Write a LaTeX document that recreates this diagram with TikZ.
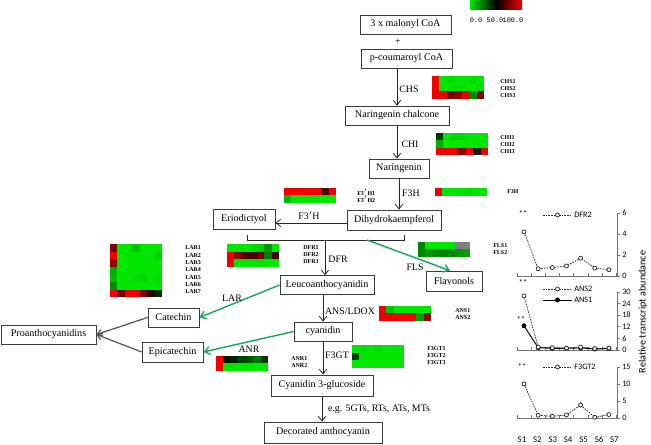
\documentclass[tikz,border=0pt]{standalone}
\usepackage{fontspec}
\setmainfont{Liberation Serif}
\newfontfamily\chartfont{Carlito}
\newfontfamily\legmono{Liberation Mono}
\usetikzlibrary{arrows.meta}
\definecolor{G}{RGB}{0,230,0}
\definecolor{R}{RGB}{240,0,0}
\definecolor{arrgreen}{RGB}{30,165,95}
\definecolor{arrgray}{RGB}{85,85,85}
\definecolor{boxline}{RGB}{60,60,60}
\newcommand\hmrow[4]{\foreach \cc [count=\ii from 0] in {#4}{\fill[\cc] ({#1+\ii*7.43},#2) rectangle ++(7.55,#3);}}
\begin{document}
\begin{tikzpicture}[x=0.75pt,y=-0.75pt,
 box/.style={draw=boxline,line width=0.6pt,inner sep=0pt,font=\fontsize{7.6}{9}\selectfont},
 lab/.style={inner sep=0pt,font=\fontsize{7.4}{8}\selectfont},
 gl/.style={inner sep=0pt,anchor=west,font=\fontsize{4.5}{5}\selectfont\bfseries},
 arr/.style={draw=black!85,line width=0.6pt,-{Straight Barb[length=3.5pt,width=5.5pt]}},
 garr/.style={draw=arrgreen,line width=1.1pt,-{Straight Barb[length=4pt,width=6pt]}},
 gyarr/.style={draw=arrgray,line width=0.9pt,-{Straight Barb[length=3.5pt,width=5pt]}},
 tk/.style={font=\chartfont\fontsize{6.2}{7}\selectfont,inner sep=0pt},
 ax/.style={draw=black!55,line width=0.5pt},
 dser/.style={draw=black!85,line width=0.55pt,dash pattern=on 1.2pt off 0.8pt},
 sser/.style={draw=black,line width=0.7pt},
 omk/.style={draw=black!85,fill=white,line width=0.55pt},
 fmk/.style={draw=black,fill=black}]
\useasboundingbox (0,0) rectangle (651,445);

% ---------- colour legend ----------
\shade[left color=G,right color=black] (470,1) rectangle (496,10);
\shade[left color=black,right color=R] (496,1) rectangle (522,10);
\node[inner sep=0pt,font=\legmono\fontsize{5.2}{6}\selectfont] (lg0) at (476,20) {0.0};
\node[inner sep=0pt,font=\legmono\fontsize{5.2}{6}\selectfont] (lg50) at (495,20) {50.0};
\node[inner sep=0pt,font=\legmono\fontsize{5.2}{6}\selectfont] (lg100) at (513,20) {100.0};

% ---------- boxes ----------
\node[box,minimum width=68.25pt,minimum height=14.25pt] (mal) at (405.5,24.5) {3 x malonyl CoA};
\node[lab] (plus) at (398,42) {+};
\node[box,minimum width=68.25pt,minimum height=14.25pt] (pc) at (406.5,58.5) {p-coumaroyl CoA};
\node[box,minimum width=78pt,minimum height=14.25pt] (nc) at (397,115.5) {Naringenin chalcone};
\node[box,minimum width=45pt,minimum height=14.25pt] (nar) at (399,168.5) {Naringenin};
\node[box,minimum width=70.5pt,minimum height=15pt] (dhk) at (394,220) {Dihydrokaempferol};
\node[box,minimum width=46.5pt,minimum height=15pt] (eri) at (244,219) {Eriodictyol};
\node[box,minimum width=42pt,minimum height=15pt] (flav) at (454,281) {Flavonols};
\node[box,minimum width=70.5pt,minimum height=14pt] (leu) at (327,285) {Leucoanthocyanidin};
\node[box,minimum width=38.25pt,minimum height=14.25pt] (cat) at (173.5,317.5) {Catechin};
\node[box,minimum width=45.75pt,minimum height=15pt] (epi) at (172.5,352) {Epicatechin};
\node[box,minimum width=71.25pt,minimum height=14.25pt] (pro) at (48.5,334.5) {Proanthocyanidins};
\node[box,minimum width=43.5pt,minimum height=14.25pt] (cya) at (323,331.5) {cyanidin};
\node[box,minimum width=76.5pt,minimum height=15.75pt] (c3g) at (322,385.5) {Cyanidin 3-glucoside};
\node[box,minimum width=88.5pt,minimum height=15.75pt] (dec) at (323,432.5) {Decorated anthocyanin};

% ---------- connectors ----------
\draw[arr] (nc.north |- pc.south) -- (nc.north);
\draw[arr] (nc.south) -- (nc.south |- nar.north);
\draw[arr] (nar.south) -- (nar.south |- dhk.north);
\draw[arr] ([yshift=-2.2pt]dhk.west) -- ([yshift=-2.2pt]dhk.west -| eri.east);
\coordinate (bl) at (247,235);
\coordinate (br) at (404,235);
\draw[draw=black!85,line width=0.6pt] (bl) -- ++(0,5) -| (br);
\coordinate (dfrtop) at (325,240);
\draw[arr] (dfrtop) -- (dfrtop |- leu.north);
\coordinate (flsstart) at (367,240);
\draw[garr] (flsstart) -- ([xshift=-3pt]flav.north);
\draw[arr] (cya.north |- leu.south) -- (cya.north);
\draw[arr] (cya.south) -- (cya.south |- c3g.north);
\draw[arr] (c3g.south) -- (c3g.south |- dec.north);
\draw[garr] (leu.west) -- (cat.east);
\draw[garr] (cya.west) -- (epi.east);
\draw[gyarr] (cat.west) -- (pro.east);
\draw[gyarr] (epi.west) -- (pro.east);

% ---------- enzyme labels ----------
\node[lab] (lchs) at (409,89) {CHS};
\node[lab] (lchi) at (410,144) {CHI};
\node[lab] (lf3h) at (411,193) {F3H};
\node[lab] (lf3ph) at (309,216) {F3$'$H};
\node[lab] (ldfr) at (338,259) {DFR};
\node[lab] (lfls) at (415,267) {FLS};
\node[lab] (llar) at (232,298) {LAR};
\node[lab] (lans) at (350,311) {ANS/LDOX};
\node[lab] (lanr) at (249,349) {ANR};
\node[lab] (lf3gt) at (337,355) {F3GT};
\node[lab] (leg) at (379,409) {e.g. 5GTs, RTs, ATs, MTs};

% ---------- heat maps ----------
% CHS
\hmrow{432}{76}{7.7}{R,G,G!95!black,G,G,G!95!black,G}
\hmrow{432}{83.7}{7.7}{R,G,G,G!95!black,G,G,G!95!black}
\hmrow{432}{91.4}{7.7}{R,R,R!50!black,R!60!black,R,G!60!black,R!55!black}
% CHI
\hmrow{436}{133}{7.35}{G!25!black,G,G!93!black,G!93!black,G,G,G}
\hmrow{436}{140.35}{7.35}{G!75!black,G,G,G,G,G,G}
\hmrow{436}{147.7}{7.35}{R,R,R,R!60!black,R,black!90,R}
% F3'H
\hmrow{284}{188}{7.5}{R,R,R,R,R,R!30!black,R}
\hmrow{284}{195.5}{7.5}{G!80!black,G,G,G,G,G,G}
% F3H
\hmrow{435}{188}{8}{R,G,G,G,G!95!black,G,G}
% DFR
\hmrow{227}{244}{7.7}{G,G,G,G!95!black,G!90!black,G!65!black,G}
\hmrow{227}{251.7}{7.7}{R,R!60!black,R!35!black,R!30!black,R!50!black,G!55!black,R!30!black}
\hmrow{227}{259.4}{7.7}{R,G,G,G,G,G,G}
% FLS
\hmrow{418}{242}{7.5}{G!55!black,G,G,G,G,black!50,black!50}
\hmrow{418}{249.5}{7.5}{G!60!black,G!65!black,G!60!black,G!55!black,G!60!black,G!65!black,G!70!black}
% LAR
\hmrow{110}{244}{7.6}{R!50!black,G,G,G!85!black,G,G,G}
\hmrow{110}{251.6}{7.6}{R,G,G,G,G,G,G!90!black}
\hmrow{110}{259.2}{7.6}{R!60!black,G,G,G,G,G,G}
\hmrow{110}{266.8}{7.6}{G!75!black,G,G,G,G,G,G}
\hmrow{110}{274.4}{7.6}{G!80!black,G,G,G!95!black,G!90!black,G,G!95!black}
\hmrow{110}{282}{7.6}{G!60!black,G,G,G,G,G,G}
\hmrow{110}{289.6}{7.6}{R,R!45!black,R,R,R!55!black,R!15!black,G!20!black}
% ANS
\hmrow{379}{306}{7.5}{R,G!85!black,G,G,G,G,G}
\hmrow{379}{313.5}{7.5}{R,R,R,R,R,G!70!black,R!60!black}
% F3GT
\hmrow{352}{345}{7.7}{G,G!95!black,G,G!95!black,G,G,G}
\hmrow{352}{352.7}{7.7}{G!25!black,G,G,G,G,G,G}
\hmrow{352}{360.4}{7.7}{G,G,G,G,G,G,G}
% ANR
\hmrow{216}{356}{7.5}{R,G!10!black,G!15!black,G!30!black,G!35!black,G!50!black,G!25!black}
\hmrow{216}{363.5}{7.5}{R,G,G,G,G,G,G}

% ---------- gene labels ----------
\node[gl] (gchs1) at (500,82) {CHS1};
\node[gl] (gchs2) at (500,89) {CHS2};
\node[gl] (gchs3) at (500,96) {CHS3};
\node[gl] (gchi1) at (500,138) {CHI1};
\node[gl] (gchi2) at (500,145) {CHI2};
\node[gl] (gchi3) at (500,152) {CHI3};
\node[gl] (gf3ph1) at (357,192) {F3$'$H1};
\node[gl] (gf3ph2) at (357,199) {F3$'$H2};
\node[gl] (gf3h) at (507,192) {F3H};
\node[gl] (gdfr1) at (303,248) {DFR1};
\node[gl] (gdfr2) at (303,255) {DFR2};
\node[gl] (gdfr3) at (303,262) {DFR3};
\node[gl] (gfls1) at (493,246) {FLS1};
\node[gl] (gfls2) at (493,253) {FLS2};
\node[gl] (glar1) at (185,248) {LAR1};
\node[gl] (glar2) at (185,255.3) {LAR2};
\node[gl] (glar3) at (185,262.6) {LAR3};
\node[gl] (glar4) at (185,269.9) {LAR4};
\node[gl] (glar5) at (185,277.2) {LAR5};
\node[gl] (glar6) at (185,284.5) {LAR6};
\node[gl] (glar7) at (185,291.8) {LAR7};
\node[gl] (gans1) at (455,311) {ANS1};
\node[gl] (gans2) at (455,318) {ANS2};
\node[gl] (gf3gt1) at (427,349) {F3GT1};
\node[gl] (gf3gt2) at (427,356) {F3GT2};
\node[gl] (gf3gt3) at (427,363) {F3GT3};
\node[gl] (ganr1) at (291,359) {ANR1};
\node[gl] (ganr2) at (291,366) {ANR2};

% ---------- charts ----------
% DFR2 chart
\draw[ax] (517,276) -- (617,276);
\draw[ax] (617,213) -- (617,276);
\foreach \v in {0,2,4,6}{\draw[ax] (617,{276-10.5*\v}) -- ++(3,0); \node[tk,anchor=west] (ta\v) at (622,{276-10.5*\v}) {\v};}
\foreach \k in {0,...,7}{\draw[ax] ({517+14.2*\k},276) -- ++(0,-3);}
\draw[dser] (524,231.9) -- (538.15,268.7) -- (552.3,267.6) -- (566.45,266) -- (580.6,258.2) -- (594.75,268.1) -- (608.9,269.7);
\foreach \x/\y in {524/231.9,538.15/268.7,552.3/267.6,566.45/266,580.6/258.2,594.75/268.1,608.9/269.7}{\draw[ax] (\x-2,\y) -- (\x+2,\y); \draw[omk] (\x,\y) circle[radius=1.5pt];}
\node[tk] (sa) at (523,214) {**};
\draw[dser] (543,215) -- (572,215);
\draw[omk] (557.5,215) circle[radius=1.5pt];
\node[tk,anchor=west] (la) at (574,215) {DFR2};

% ANS chart
\draw[ax] (517,350) -- (617,350);
\draw[ax] (617,292) -- (617,350);
\foreach \v in {0,6,12,18,24,30}{\draw[ax] (617,{350-1.933*\v}) -- ++(3,0); \node[tk,anchor=west] (tb\v) at (622,{350-1.933*\v}) {\v};}
\foreach \k in {0,...,7}{\draw[ax] ({517+14.2*\k},350) -- ++(0,-3);}
\draw[dser] (524,295.9) -- (538.15,347.1) -- (552.3,347.7) -- (566.45,348.1) -- (580.6,347.1) -- (594.75,348.6) -- (608.9,348.1);
\draw[sser] (524,325.8) -- (538.15,347.7) -- (552.3,348.3) -- (566.45,348.3) -- (580.6,347.9) -- (594.75,349) -- (608.9,348.5);
\foreach \x/\y in {524/325.8,538.15/347.7,552.3/348.3,566.45/348.3,580.6/347.9,594.75/349,608.9/348.5}{\fill[fmk] (\x,\y) circle[radius=1.6pt];}
\foreach \x/\y in {524/295.9,538.15/347.1,552.3/347.7,566.45/348.1,580.6/347.1,594.75/348.6,608.9/348.1}{\draw[omk] (\x,\y) circle[radius=1.5pt];}
\node[tk] (sb1) at (523,283) {**};
\node[tk] (sb2) at (521,320) {**};
\draw[dser] (543,289) -- (572,289);
\draw[omk] (557.5,289) circle[radius=1.5pt];
\node[tk,anchor=west] (lb2) at (574,289) {ANS2};
\draw[sser] (543,300) -- (572,300);
\fill[fmk] (557.5,300) circle[radius=1.6pt];
\node[tk,anchor=west] (lb1) at (574,300) {ANS1};

% F3GT2 chart
\draw[ax] (517,418) -- (617,418);
\draw[ax] (617,367) -- (617,418);
\foreach \v in {0,5,10,15}{\draw[ax] (617,{418-3.4*\v}) -- ++(3,0); \node[tk,anchor=west] (tc\v) at (622,{418-3.4*\v}) {\v};}
\foreach \k in {0,...,7}{\draw[ax] ({517+14.2*\k},418) -- ++(0,-3);}
\draw[dser] (524,384) -- (538.15,415.3) -- (552.3,416.3) -- (566.45,414.9) -- (580.6,405.1) -- (594.75,417.3) -- (608.9,414.6);
\draw[ax] (580.6,402) -- (580.6,408);
\foreach \x/\y in {524/384,538.15/415.3,552.3/416.3,566.45/414.9,580.6/405.1,594.75/417.3,608.9/414.6}{\draw[ax] (\x-2,\y) -- (\x+2,\y); \draw[omk] (\x,\y) circle[radius=1.5pt];}
\node[tk] (sc) at (522,367) {**};
\draw[dser] (543,367) -- (572,367);
\draw[omk] (557.5,367) circle[radius=1.5pt];
\node[tk,anchor=west] (lc) at (574,367) {F3GT2};

% x labels
\foreach \i in {1,...,7}{\node[tk,font=\chartfont\fontsize{6.6}{7}\selectfont] (s\i) at ({522+15.4*(\i-1)},440) {S\i};}
\node[rotate=90,inner sep=0pt,font=\chartfont\fontsize{7.6}{8}\selectfont] (ytitle) at (643,312) {Relative transcript abundance};
\end{tikzpicture}
\end{document}
